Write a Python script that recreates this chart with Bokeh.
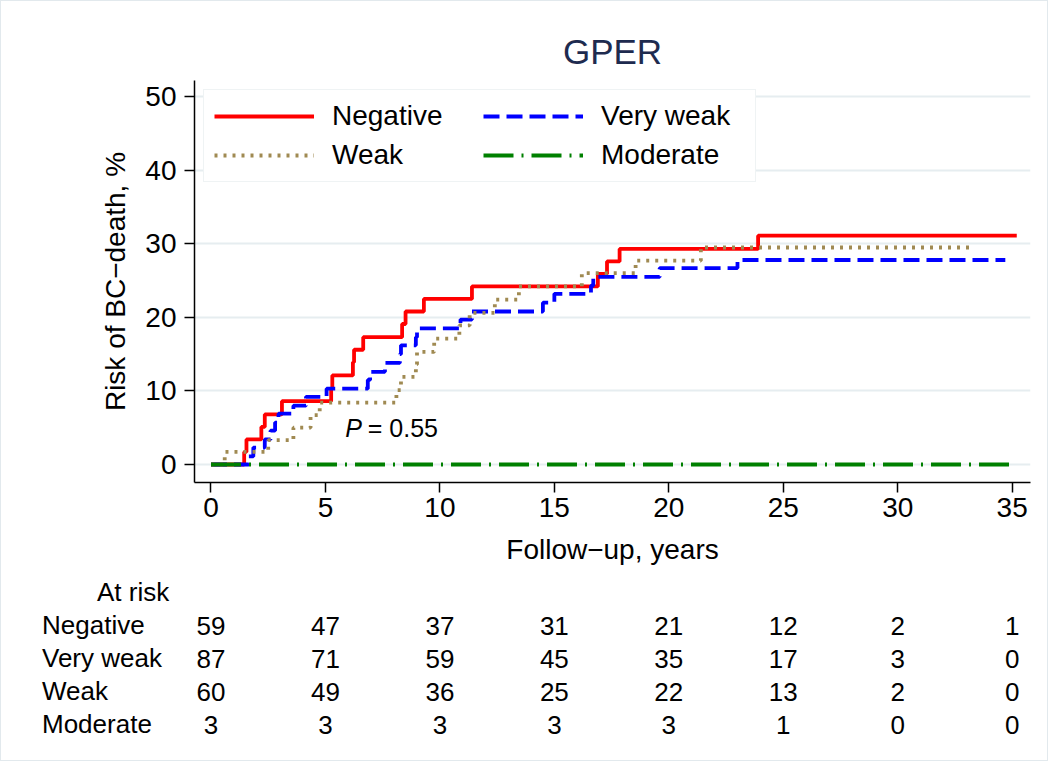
from bokeh.plotting import figure
from bokeh.layouts import column, row
from bokeh.models import Range1d, FixedTicker, Legend, LegendItem, Label, Div
from bokeh.core.properties import value
from bokeh.embed import file_html
from bokeh.resources import INLINE

# ---------------- data ----------------
title_text = "GPER"
x_label = "Follow\u2212up, years"
y_label = "Risk of BC\u2212death, %"
p_text = "= 0.55"

x_ticks = [0, 5, 10, 15, 20, 25, 30, 35]
y_ticks = [0, 10, 20, 30, 40, 50]

neg_t = [0, 1.45, 1.55, 2.2, 2.35, 3.1, 5.25, 5.3, 6.2, 6.25, 6.65, 8.35, 8.5, 9.3, 11.4, 16.9, 17.3, 17.85, 23.9]
neg_r = [0, 1.7, 3.4, 5.1, 6.8, 8.6, 10.4, 12.1, 13.9, 15.6, 17.3, 19.1, 20.8, 22.5, 24.2, 25.9, 27.6, 29.3, 31.1]
neg_end = 35.2

vw_t = [0, 1.65, 1.85, 2.35, 2.6, 2.8, 2.95, 3.6, 4.15, 5.05, 6.85, 6.95, 7.6, 8.25, 8.3, 8.95, 9.0, 10.9, 11.4, 14.5, 15.0, 16.6, 16.7, 19.6, 23.0]
vw_r = [0, 1.1, 2.3, 3.4, 4.6, 5.7, 6.9, 8.0, 9.2, 10.3, 11.5, 12.6, 13.8, 15.0, 16.2, 17.3, 18.5, 19.7, 20.8, 22.0, 23.2, 24.3, 25.5, 26.7, 27.8]
vw_end = 34.7

wk_t = [0, 0.6, 2.5, 3.6, 4.35, 4.75, 8.1, 8.3, 8.95, 9.0, 9.75, 10.85, 11.3, 12.4, 13.45, 16.2, 18.55, 21.4]
wk_r = [0, 1.7, 3.3, 5.0, 6.7, 8.4, 10.1, 11.9, 13.6, 15.3, 17.1, 18.9, 20.6, 22.4, 24.2, 26.0, 27.7, 29.5]
wk_end = 33.3

mod_t = [0]
mod_r = [0]
mod_end = 35.1

groups = ["Negative", "Very weak", "Weak", "Moderate"]
risk_header = "At risk"
risk_times = [0, 5, 10, 15, 20, 25, 30, 35]
risk_negative = [59, 47, 37, 31, 21, 12, 2, 1]
risk_veryweak = [87, 71, 59, 45, 35, 17, 3, 0]
risk_weak = [60, 49, 36, 25, 22, 13, 2, 0]
risk_moderate = [3, 3, 3, 3, 3, 1, 0, 0]

# ---------------- layout constants (px) ----------------
BW = 1.5                       # outer border width
W = 1046
H_TOP = 569
H_BOT = 190
FL, FR, FT, FB = 193, 1029, 79, 481  # frame edges (inside the border)
X0, X1 = -0.72, 35.8
Y0, Y1 = -2.45, 52.2
FONT = "Liberation Sans"

p = figure(width=W, height=H_TOP, output_backend="svg", toolbar_location=None,
           x_range=Range1d(X0, X1), y_range=Range1d(Y0, Y1),
           min_border_left=FL, min_border_right=W - FR, min_border_top=FT,
           min_border_bottom=H_TOP - FB)
p.outline_line_color = None
p.background_fill_color = "white"
p.border_fill_color = "white"

p.title.text = title_text
p.title.align = "center"
p.title.text_font = FONT
p.title.text_font_size = "35px"
p.title.text_font_style = "normal"
p.title.text_color = "#1e2b4f"
p.title.standoff = 19

p.xgrid.grid_line_color = None
p.ygrid.ticker = FixedTicker(ticks=y_ticks)
p.ygrid.grid_line_color = "#e6edf0"
p.ygrid.grid_line_width = 2

for ax, ticks in ((p.xaxis, x_ticks), (p.yaxis, y_ticks)):
    ax.ticker = FixedTicker(ticks=ticks)
    ax.minor_tick_line_color = None
    ax.major_tick_in = 0
    ax.major_tick_out = 10
    ax.major_tick_line_width = 1.5
    ax.axis_line_width = 1.5
    ax.axis_line_color = "black"
    ax.major_tick_line_color = "black"
    ax.major_label_text_font = FONT
    ax.major_label_text_font_size = "28px"
    ax.major_label_text_color = "black"
    ax.axis_label_text_font = FONT
    ax.axis_label_text_font_size = "28px"
    ax.axis_label_text_font_style = "normal"
    ax.axis_label_text_color = "black"

p.xaxis.major_label_standoff = 5
p.xaxis.axis_label_standoff = 14
p.yaxis.major_label_standoff = 8
p.yaxis.axis_label_standoff = 11

p.xaxis.axis_label = x_label
p.yaxis.axis_label = y_label

r_neg = p.step(x=neg_t + [neg_end], y=neg_r + [neg_r[-1]], mode="after",
               line_color="#ff0000", line_width=3.8)
r_vw = p.step(x=vw_t + [vw_end], y=vw_r + [vw_r[-1]], mode="after",
              line_color="#0000ff", line_width=3.8, line_dash="16 7")
r_wk = p.step(x=wk_t + [wk_end], y=wk_r + [wk_r[-1]], mode="after",
              line_color="#a08a52", line_width=3.8, line_dash="3 6")
r_mod = p.step(x=mod_t + [mod_end], y=mod_r + [mod_r[-1]], mode="after",
               line_color="#008000", line_width=3.8, line_dash="30 8 2 8")

legend = Legend(items=[LegendItem(label=groups[0], renderers=[r_neg]),
                       LegendItem(label=groups[2], renderers=[r_wk]),
                       LegendItem(label=groups[1], renderers=[r_vw]),
                       LegendItem(label=groups[3], renderers=[r_mod])],
                ncols=2, location="top_left")
legend.label_text_font = FONT
legend.label_text_font_size = "28px"
legend.label_text_color = "black"
legend.glyph_width = 100
legend.glyph_height = 30
legend.label_standoff = 18
legend.label_width = 144
legend.spacing = 7
legend.padding = 10
legend.margin = 9
legend.border_line_color = "#dfe7ea"
legend.border_line_width = 1.5
legend.background_fill_alpha = 1.0
p.add_layout(legend)

# P-value annotation
p.add_layout(Label(x=5.87, y=4.9, text="P", text_font=FONT, text_font_size="25px",
                   text_font_style="italic", text_baseline="middle", text_align="left",
                   text_color="black"))
p.add_layout(Label(x=6.85, y=4.9, text=p_text, text_font=FONT, text_font_size="25px",
                   text_baseline="middle", text_align="left", text_color="black"))

# ---------------- at-risk table ----------------
ROW_PX = 33.0
HEADER_PX = 591 - H_TOP              # header row centre below top of table panel
ty_top = -HEADER_PX / ROW_PX
ty_bot = ty_top + H_BOT / ROW_PX

t = figure(width=W - FL, height=H_BOT, output_backend="svg", toolbar_location=None,
           x_range=p.x_range, y_range=Range1d(ty_bot, ty_top),
           min_border_left=0, min_border_right=W - FR, min_border_top=0, min_border_bottom=0)
t.axis.visible = False
t.grid.visible = False
t.outline_line_color = None
t.background_fill_color = "white"
t.border_fill_color = "white"

rows = [risk_negative, risk_veryweak, risk_weak, risk_moderate]
for i, vals in enumerate(rows, start=1):
    t.text(x=risk_times, y=[i] * len(vals), text=[str(v) for v in vals], text_font=value(FONT),
           text_font_size="26px", text_baseline="middle", text_align="center", text_color="black")

# row labels (left of the table's plotting frame)
spans = []
labels = [(risk_header, 96, 0)] + [(g, 41, i) for i, g in enumerate(groups, start=1)]
for txt, left, i in labels:
    top = HEADER_PX + i * ROW_PX - 15
    spans.append(f'<span style="position:absolute;left:{left}px;top:{top:.0f}px;'
                 f'line-height:30px;white-space:nowrap;">{txt}</span>')
div = Div(text="".join(spans), width=FL, height=H_BOT, margin=0,
          styles={"position": "relative", "font-family": FONT, "font-size": "26px",
                  "color": "black", "background": "white"})

layout = column(p, row(div, t, spacing=0), spacing=0)
layout.styles = {"border": f"{BW}px solid #e2e9ed"}

open("out.html", "w").write(file_html(layout, INLINE))
